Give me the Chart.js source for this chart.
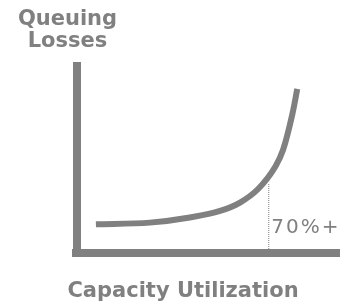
<!DOCTYPE html>
<html>
<head>
<meta charset="utf-8">
<script src="https://cdn.jsdelivr.net/npm/chart.js@4"></script>
<style>
    html, body { margin: 0; padding: 0; background: #ffffff; }
    #wrap { width: 340px; height: 303px; position: relative; }
</style>
</head>
<body>
<div id="wrap"><canvas id="chart"></canvas></div>
<script>
// ---------------- DATA ----------------
const utilization = [6.9, 26.6, 41.2, 52.2, 59.5, 66.1, 72.3, 75.2, 78.7, 80.4];
const losses      = [15.0, 15.9, 18.6, 22.0, 26.4, 33.5, 45.0, 53.9, 73.3, 85.9];
const markerX = [70, 70];
const markerY = [0, 36.5];

const yTitle = ["Queuing", "Losses"];
const xTitle = "Capacity Utilization";
const markerLabel = "70%+";

const GRAY = "#808080";
const FONT = "'DejaVu Sans', Verdana, sans-serif";

// ---------------- DECORATION ----------------
const decor = {
    id: "decor",
    afterDraw(chart) {
        const c = chart.ctx;
        const a = chart.chartArea;
        const xs = chart.scales.x;
        c.save();
        c.fillStyle = GRAY;

        // axis bars
        c.fillRect(a.left - 4, a.top, 8, a.bottom + 4 - a.top);
        c.fillRect(a.left - 5, a.bottom - 4, a.right - a.left + 5, 8);

        // titles
        c.textAlign = "center";
        c.textBaseline = "alphabetic";
        c.font = "bold 21px " + FONT;
        c.fillText(yTitle[0], 67.5, 24.5);
        c.fillText(yTitle[1], 67.5, 47);
        c.fillText(xTitle, 183, 297);

        // marker label
        c.textAlign = "left";
        c.font = "20px " + FONT;
        c.letterSpacing = "2px";
        c.fillText(markerLabel, xs.getPixelForValue(markerX[0]) + 2.5, 233);
        c.restore();
    }
};

// ---------------- CHART ----------------
new Chart(document.getElementById("chart"), {
    type: "line",
    data: {
        datasets: [
            {
                data: utilization.map((x, i) => ({ x, y: losses[i] })),
                borderColor: GRAY,
                borderWidth: 6,
                pointRadius: 0,
                cubicInterpolationMode: "monotone",
                fill: false
            },
            {
                data: markerX.map((x, i) => ({ x, y: markerY[i] })),
                borderColor: GRAY,
                borderWidth: 1,
                borderDash: [1, 1],
                pointRadius: 0,
                fill: false
            }
        ]
    },
    options: {
        responsive: true,
        maintainAspectRatio: false,
        animation: false,
        events: [],
        layout: {
            padding: { left: 77, top: 62, right: 0, bottom: 50 }
        },
        plugins: {
            legend: { display: false },
            tooltip: { enabled: false }
        },
        scales: {
            x: { type: "linear", min: 0, max: 96, display: false },
            y: { type: "linear", min: 0, max: 100, display: false }
        }
    },
    plugins: [decor]
});
</script>
</body>
</html>
